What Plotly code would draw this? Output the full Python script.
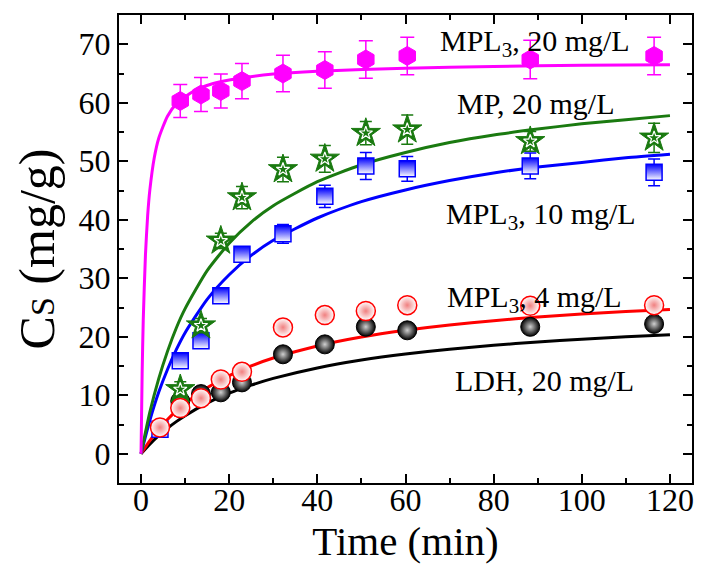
import plotly.graph_objects as go

# ---- data ----
t_pts = [4.3, 8.9, 13.6, 18.1, 22.9, 32.2, 41.7, 51.0, 60.4, 88.3, 116.4]
t_pts10 = t_pts[1:]

mpl3_20 = [60.3, 61.4, 62.0, 63.7, 65.0, 65.6, 67.4, 68.0, 67.4, 68.0]
mpl3_20_err = [2.8, 2.9, 2.9, 3.0, 3.1, 3.1, 3.2, 3.2, 3.3, 3.2]

mp_20 = [11.0, 21.9, 36.4, 43.8, 48.6, 50.4, 54.8, 55.4, 53.4, 54.0]
mp_20_err = [1.3, 1.2, 1.3, 1.9, 2.1, 2.3, 2.0, 2.5, 1.7, 2.5]

mpl3_10 = [4.2, 15.9, 19.3, 27.0, 34.1, 37.6, 44.0, 49.2, 48.7, 49.2, 48.1]
mpl3_10_err = [0.6, 0.8, 1.0, 0.8, 0.8, 1.6, 1.9, 2.3, 2.1, 2.2, 2.3]

mpl3_4 = [4.5, 7.8, 9.5, 12.7, 14.0, 21.6, 23.7, 24.4, 25.4, 25.3, 25.4]
mpl3_4_err = [0.6, 1.4, 1.2, 1.3, 1.3, 1.0, 1.0, 1.0, 1.0, 1.0, 1.0]

ldh_20 = [9.0, 10.2, 10.5, 12.2, 17.0, 18.7, 21.7, 21.1, 21.7, 22.2]

# fitted curves
t_fit_fast = [0, 0.25, 0.5, 1, 1.5, 2, 3, 4, 6, 8, 12, 16, 20, 30, 40, 60, 80, 100, 120]
fit_mpl3_20 = [0, 13.7, 22.8, 34.0, 40.7, 45.1, 50.6, 53.9, 57.7, 59.8, 62.0, 63.2, 63.9,
               64.9, 65.4, 65.9, 66.2, 66.4, 66.5]

t_fit = [0, 2, 4, 6, 8, 10, 15, 20, 25, 30, 40, 50, 60, 70, 80, 90, 100, 110, 120]
fit_mp_20 = [0, 7.1, 12.8, 17.5, 21.5, 24.8, 31.3, 36.0, 39.6, 42.4, 46.5, 49.4, 51.5,
             53.2, 54.5, 55.5, 56.4, 57.1, 57.8]
fit_mpl3_10 = [0, 5.7, 10.5, 14.4, 17.8, 20.7, 26.4, 30.6, 33.9, 36.5, 40.3, 43.1, 45.1,
               46.7, 48.0, 49.0, 49.8, 50.6, 51.2]
fit_mpl3_4 = [0, 2.25, 4.18, 5.85, 7.32, 8.62, 11.29, 13.36, 15.02, 16.36, 18.43, 19.95,
              21.10, 22.01, 22.75, 23.36, 23.87, 24.30, 24.67]
fit_ldh_20 = [0, 1.64, 3.08, 4.36, 5.49, 6.51, 8.65, 10.35, 11.73, 12.88, 14.67, 16.01,
              17.05, 17.87, 18.55, 19.11, 19.58, 19.99, 20.34]

labels = ["MPL<sub>3</sub>, 20 mg/L", "MP, 20 mg/L", "MPL<sub>3</sub>, 10 mg/L",
          "MPL<sub>3</sub>, 4 mg/L", "LDH, 20 mg/L"]
label_x = [89.3, 89.5, 90.8, 89.3, 91.5]
label_y = [70.2, 59.9, 40.6, 26.5, 12.5]

MAG = "#ff00ff"
GRN = "#1a7a10"
BLU = "#0000ff"
RED = "#ff0000"
BLK = "#000000"
FONT = "Liberation Serif"

fig = go.Figure()

# curves
for tx, ty, c in [(t_fit, fit_ldh_20, BLK), (t_fit, fit_mpl3_4, RED),
                  (t_fit, fit_mpl3_10, BLU), (t_fit, fit_mp_20, GRN),
                  (t_fit_fast, fit_mpl3_20, MAG)]:
    fig.add_trace(go.Scatter(x=tx, y=ty, mode="lines", line=dict(color=c, width=3, shape="spline", smoothing=0.6),
                             hoverinfo="skip"))

# LDH spheres
fig.add_trace(go.Scatter(x=t_pts10, y=ldh_20, mode="markers",
                         marker=dict(symbol="circle", size=19, color="#000000",
                                     gradient=dict(type="radial", color="#d0d0d0"),
                                     line=dict(color="#000000", width=1))))
# MPL3 10 mg/L squares
fig.add_trace(go.Scatter(x=t_pts, y=mpl3_10, mode="markers",
                         error_y=dict(type="data", array=mpl3_10_err, color=BLU, thickness=1.5, width=6),
                         marker=dict(symbol="square", size=16, color=BLU,
                                     gradient=dict(type="vertical", color="#ffffff"),
                                     line=dict(color=BLU, width=1.5))))
# MP 20 mg/L stars
fig.add_trace(go.Scatter(x=t_pts10, y=mp_20, mode="markers",
                         error_y=dict(type="data", array=mp_20_err, color=GRN, thickness=1.5, width=6),
                         marker=dict(symbol="star", size=22, color=GRN, line=dict(color=GRN, width=1))))
fig.add_trace(go.Scatter(x=t_pts10, y=mp_20, mode="markers",
                         marker=dict(symbol="star-open", size=10, color="#ffffff", line=dict(color="#ffffff", width=1.2))))
# MPL3 4 mg/L circles
fig.add_trace(go.Scatter(x=t_pts, y=mpl3_4, mode="markers",
                         error_y=dict(type="data", array=mpl3_4_err, color=RED, thickness=1.5, width=6),
                         marker=dict(symbol="circle", size=19, color="#ffffff",
                                     gradient=dict(type="radial", color="#f08080"),
                                     line=dict(color=RED, width=1.5))))
# MPL3 20 mg/L hexagons
fig.add_trace(go.Scatter(x=t_pts10, y=mpl3_20, mode="markers",
                         error_y=dict(type="data", array=mpl3_20_err, color=MAG, thickness=1.5, width=7),
                         marker=dict(symbol="hexagon", size=19, color=MAG, line=dict(color=MAG, width=1))))

for txt, lx, ly in zip(labels, label_x, label_y):
    fig.add_annotation(x=lx, y=ly, xref="x", yref="y", text=txt, showarrow=False,
                       font=dict(family=FONT, size=30, color="black"), xanchor="center", yanchor="middle")

axis_common = dict(showgrid=False, zeroline=False, showline=True, linecolor="black", linewidth=2,
                   mirror="ticks", ticks="inside", ticklen=9, tickwidth=2, tickcolor="black",
                   tickfont=dict(family=FONT, size=32, color="black"))

fig.update_xaxes(range=[-5, 125], tickvals=[0, 20, 40, 60, 80, 100, 120], ticklabelstandoff=-12,
                 minor=dict(tickvals=[10, 30, 50, 70, 90, 110], ticks="inside", ticklen=5, tickwidth=2, tickcolor="black"),
                 title=dict(text="Time (min)", font=dict(family=FONT, size=41, color="black"), standoff=0),
                 **axis_common)
fig.update_yaxes(range=[-5, 75], tickvals=[0, 10, 20, 30, 40, 50, 60, 70],
                 minor=dict(tickvals=[5, 15, 25, 35, 45, 55, 65], ticks="inside", ticklen=5, tickwidth=2, tickcolor="black"),
                 title=dict(text="C<span style='font-size:34px'>S</span> (mg/g)",
                            font=dict(family=FONT, size=50, color="black"), standoff=8),
                 **axis_common)

fig.update_layout(width=701, height=572, margin=dict(l=119, r=7, t=15, b=89),
                  plot_bgcolor="white", paper_bgcolor="white", showlegend=False)

fig.write_html("out.html")
